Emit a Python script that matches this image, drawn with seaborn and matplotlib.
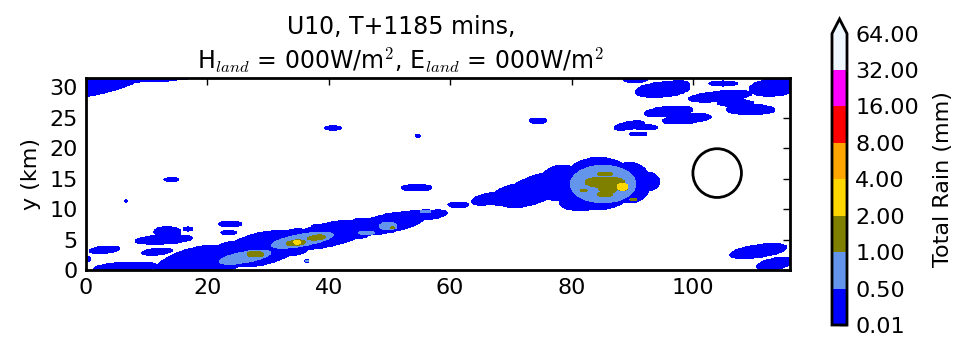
import numpy as np
import matplotlib
matplotlib.use("Agg")
import matplotlib.pyplot as plt
from matplotlib.colors import ListedColormap, BoundaryNorm
from matplotlib.patches import Circle
import seaborn as sns

# ---- data -------------------------------------------------------------
levels = [0.01, 0.5, 1.0, 2.0, 4.0, 8.0, 16.0, 32.0, 64.0]
level_colors = ["#0000ff", "#6495ed", "#808000", "#ffd700",
                "#ffa500", "#ff0000", "#ff00ff", "#f0f8ff"]
tick_labels = ["%.2f" % v for v in levels]

# rain cells (km, km, semi-axes km, angle deg, rain mm)
blob_x = [2.0, 12.0, 0.2, 6.5, 3.0, 11.7, 12.8, 13.4, 16.8, 23.8, 23.5,
          18.0, 29.0, 40.0, 50.0, 56.5, 38.8,
          23.5, 34.5, 45.0, 53.5,
          40.7, 14.1, 54.7, 6.6, 54.5, 61.4, 74.5,
          66.5, 74.0, 84.5, 84.5, 92.5, 89.5, 71.0, 78.0, 81.5,
          90.5, 95.0, 97.6, 105.0, 113.5, 104.5, 109.5, 107.0, 96.0, 99.0,
          89.5, 92.3, 91.0,
          110.8, 113.5,
          26.2, 35.6, 49.8, 46.2, 56.0, 85.2, 36.4,
          27.9, 34.6, 38.0, 50.5, 85.5, 86.0, 85.5, 85.5, 82.0, 90.2,
          34.8, 88.4]
blob_y = [30.9, 31.6, 1.8, 0.45, 3.3, 3.0, 5.0, 6.3, 6.7, 7.55, 6.15,
          1.2, 3.5, 5.8, 7.7, 9.0, 7.05,
          2.3, 4.6, 6.8, 8.5,
          23.3, 14.8, 22.0, 11.3, 13.5, 10.7, 24.5,
          11.7, 13.2, 14.2, 16.5, 14.5, 14.3, 12.4, 14.3, 11.0,
          31.3, 29.6, 30.3, 30.6, 30.0, 28.5, 26.3, 27.4, 26.0, 24.8,
          23.7, 23.4, 22.3,
          3.1, 1.0,
          2.1, 4.9, 7.2, 6.1, 9.6, 14.1, 1.5,
          2.6, 4.45, 5.3, 6.9, 14.4, 13.5, 15.75, 12.4, 13.05, 11.55,
          4.55, 13.65]
blob_a = [8.0, 7.0, 0.5, 5.2, 2.5, 2.5, 4.7, 2.2, 0.8, 1.9, 1.3,
          7.0, 7.0, 7.0, 6.0, 3.0, 1.7,
          3.0, 3.0, 3.0, 2.5,
          1.3, 1.2, 0.4, 0.2, 2.5, 1.7, 1.4,
          3.0, 6.0, 6.0, 4.0, 2.0, 3.5, 4.5, 3.5, 3.5,
          2.0, 4.5, 1.8, 2.3, 4.2, 5.2, 4.0, 3.0, 4.0, 4.0,
          2.5, 1.9, 1.4,
          4.7, 3.0,
          4.3, 5.2, 1.5, 1.4, 0.9, 5.4, 0.3,
          1.4, 1.6, 1.5, 0.3, 3.3, 1.6, 1.3, 1.3, 0.6, 0.6,
          0.55, 0.9]
blob_b = [2.0, 0.6, 0.4, 0.8, 0.55, 0.5, 0.7, 0.75, 0.3, 0.4, 0.3,
          2.4, 2.6, 1.9, 1.5, 0.7, 0.4,
          2.2, 2.1, 1.6, 1.1,
          0.35, 0.3, 0.2, 0.15, 0.5, 0.4, 0.4,
          0.9, 2.2, 4.2, 1.9, 1.5, 3.3, 1.7, 2.8, 1.2,
          0.5, 1.2, 0.8, 0.4, 1.4, 0.8, 0.8, 0.5, 0.8, 0.7,
          0.6, 0.35, 0.3,
          1.0, 0.9,
          0.9, 1.0, 0.65, 0.3, 0.25, 3.1, 0.15,
          0.5, 0.45, 0.4, 0.2, 0.9, 0.9, 0.35, 0.4, 0.2, 0.25,
          0.3, 0.6]
blob_angle = [12, 3, 0, 3, 5, 5, 3, 0, 0, 0, 0,
              14, 13, 12, 11, 8, 0,
              14, 12, 11, 10,
              0, 0, 0, 0, 0, 0, 0,
              10, 20, 0, 0, 0, 0, 12, 20, 0,
              0, 5, 0, 0, 5, 5, 0, 0, 5, 5,
              10, 0, 0,
              8, 10,
              10, 10, 0, 0, 0, 0, 0,
              0, 5, 5, 0, 0, 0, 0, 0, 0, 0,
              0, 0]
blob_rain = [0.25] * 52 + [0.7] * 7 + [1.5] * 10 + [3.0] * 2

circle_x, circle_y, circle_r = 104.0, 15.9, 4.0
x_max, y_max = 116.0, 31.5
title_text = "U10, T+1185 mins,\nH$_{land}$ = 000W/m$^2$, E$_{land}$ = 000W/m$^2$"

# ---- field ------------------------------------------------------------
gx = np.linspace(0, x_max, 1161)
gy = np.linspace(0, y_max, 316)
X, Y = np.meshgrid(gx, gy)
field = np.zeros_like(X)
for cx, cy, a, b, ang, v in zip(blob_x, blob_y, blob_a, blob_b, blob_angle, blob_rain):
    t = np.deg2rad(ang)
    dx, dy = X - cx, Y - cy
    u = (dx * np.cos(t) + dy * np.sin(t)) / a
    w = (-dx * np.sin(t) + dy * np.cos(t)) / b
    prof = np.clip(1.0 - (u ** 2 + w ** 2), 0, 1) ** 0.05
    field = np.maximum(field, v * prof)

# ---- style ------------------------------------------------------------
sns.set_style("white")
plt.rcParams.update({
    "font.family": ["DejaVu Sans"],
    "mathtext.fontset": "cm",
    "text.color": "black", "axes.labelcolor": "black",
    "xtick.direction": "in", "ytick.direction": "in",
    "xtick.top": True, "ytick.right": True,
    "xtick.major.size": 5, "ytick.major.size": 5,
    "xtick.major.width": 1, "ytick.major.width": 1,
    "xtick.color": "black", "ytick.color": "black",
    "axes.edgecolor": "black",
})

fig = plt.figure(figsize=(9.55, 3.37), dpi=100)
ax = fig.add_axes([86 / 955, 67 / 337, 704 / 955, 192 / 337])
cax = fig.add_axes([832 / 955, 12 / 337, 15 / 955, 306 / 337])

cmap = ListedColormap(level_colors)
cmap.set_over(level_colors[-1])
norm = BoundaryNorm(levels, cmap.N)
cs = ax.contourf(X, Y, field, levels=levels, cmap=cmap, norm=norm, extend="max")
ax.add_patch(Circle((circle_x, circle_y), circle_r, fill=False, ec="black", lw=2))

ax.set_xlim(0, x_max)
ax.set_ylim(0, y_max)
ax.set_xticks([0, 20, 40, 60, 80, 100])
ax.set_yticks([0, 5, 10, 15, 20, 25, 30])
ax.tick_params(labelsize=16, pad=6)
ax.set_ylabel("y (km)", fontsize=16, labelpad=6)
for s in ax.spines.values():
    s.set_linewidth(2)
    s.set_visible(True)
fig.text(401 / 955, 1 - 75 / 337, title_text, ha="center", va="bottom",
         fontsize=17, linespacing=1.3)

cb = fig.colorbar(cs, cax=cax, ticks=levels)
cb.ax.set_yticklabels(tick_labels)
cb.ax.tick_params(labelsize=16, direction="in", length=6, width=1, right=True, pad=6)
cb.outline.set_linewidth(2)
cb.set_label("Total Rain (mm)", fontsize=16, labelpad=10)

fig.savefig("out.png", dpi=100)
